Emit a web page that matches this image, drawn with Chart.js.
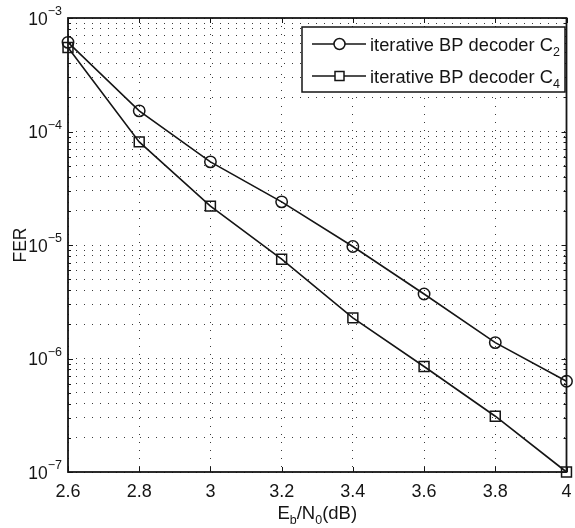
<!DOCTYPE html>
<html>
<head>
<meta charset="utf-8">
<script src="https://cdn.jsdelivr.net/npm/chart.js@4/dist/chart.umd.min.js"></script>
<style>
html,body{margin:0;padding:0;background:#fff;}
canvas{display:block;}
</style>
</head>
<body>
<canvas id="c" width="575" height="528"></canvas>
<script>
// ---- data ----
const ebn0 = [2.6, 2.8, 3.0, 3.2, 3.4, 3.6, 3.8, 4.0];
const ferC2 = [6.1e-4, 1.52e-4, 5.4e-5, 2.4e-5, 9.7e-6, 3.7e-6, 1.38e-6, 6.3e-7];
const ferC4 = [5.5e-4, 8.1e-5, 2.2e-5, 7.5e-6, 2.28e-6, 8.5e-7, 3.1e-7, 1.0e-7];
const xTickValues = [2.6, 2.8, 3.0, 3.2, 3.4, 3.6, 3.8, 4.0];
const xTickLabels = ['2.6', '2.8', '3', '3.2', '3.4', '3.6', '3.8', '4'];
const yTickExponents = [-7, -6, -5, -4, -3];
const seriesBase = ['iterative BP decoder C', 'iterative BP decoder C'];
const seriesSub = ['2', '4'];
const seriesMarkers = ['circle', 'rect'];
const yAxisTitle = 'FER';

const FONT = "'Liberation Sans', Arial, Helvetica, sans-serif";
const INK = '#151515';

function pts(xs, ys) { return xs.map((x, i) => ({x: x, y: ys[i]})); }

function richWidth(ctx, parts) {
  let w = 0;
  for (const p of parts) { ctx.font = p.size + 'px ' + FONT; w += ctx.measureText(p.t).width; }
  return w;
}
function drawRich(ctx, parts, x, y, align) {
  const w = richWidth(ctx, parts);
  let cx = align === 'center' ? x - w / 2 : (align === 'right' ? x - w : x);
  ctx.textAlign = 'left';
  ctx.textBaseline = 'alphabetic';
  for (const p of parts) {
    ctx.font = p.size + 'px ' + FONT;
    ctx.fillText(p.t, cx, y + (p.dy || 0));
    cx += ctx.measureText(p.t).width;
  }
}

const decorations = {
  id: 'decorations',
  afterDraw(chart) {
    const ctx = chart.ctx;
    const {left, right, top, bottom} = chart.chartArea;
    const xs = chart.scales.x, ys = chart.scales.y;
    ctx.save();
    ctx.fillStyle = INK;
    ctx.strokeStyle = INK;

    // inward tick marks
    ctx.lineWidth = 1;
    ctx.beginPath();
    for (const v of xTickValues) {
      const px = Math.round(xs.getPixelForValue(v)) + 0.5;
      ctx.moveTo(px, bottom); ctx.lineTo(px, bottom - 5);
      ctx.moveTo(px, top); ctx.lineTo(px, top + 5);
    }
    for (let e = -7; e <= -3; e++) {
      for (let m = 1; m <= 9; m++) {
        if (e === -3 && m > 1) break;
        const py = Math.round(ys.getPixelForValue(m * Math.pow(10, e))) + 0.5;
        const len = m === 1 ? 5 : 3;
        ctx.moveTo(left, py); ctx.lineTo(left + len, py);
        ctx.moveTo(right, py); ctx.lineTo(right - len, py);
      }
    }
    ctx.stroke();

    // axes box
    ctx.lineWidth = 1.8;
    ctx.strokeRect(left, top, right - left, bottom - top);

    // x tick labels
    ctx.font = '18px ' + FONT;
    ctx.textAlign = 'center';
    ctx.textBaseline = 'alphabetic';
    xTickValues.forEach((v, i) => {
      ctx.fillText(xTickLabels[i], xs.getPixelForValue(v), 497);
    });

    // y tick labels 10^e
    for (const e of yTickExponents) {
      const py = ys.getPixelForValue(Math.pow(10, e));
      drawRich(ctx, [
        {t: '10', size: 17.5, dy: 6.5},
        {t: '\u2212' + Math.abs(e), size: 12.5, dy: -3}
      ], 62, py, 'right');
    }

    // axis titles
    drawRich(ctx, [
      {t: 'E', size: 18.5},
      {t: 'b', size: 12.5, dy: 5},
      {t: '/N', size: 18.5},
      {t: '0', size: 12.5, dy: 5},
      {t: '(dB)', size: 18.5}
    ], (left + right) / 2, 519, 'center');

    ctx.save();
    ctx.translate(26, (top + bottom) / 2);
    ctx.rotate(-Math.PI / 2);
    ctx.font = '17.5px ' + FONT;
    ctx.textAlign = 'center';
    ctx.textBaseline = 'alphabetic';
    ctx.fillText(yAxisTitle, 0, 0);
    ctx.restore();

    // legend
    const lx = 302, ly = 27, lw = 263, lh = 65;
    ctx.fillStyle = '#fff';
    ctx.fillRect(lx, ly, lw, lh);
    ctx.lineWidth = 1.5;
    ctx.strokeStyle = INK;
    ctx.strokeRect(lx, ly, lw, lh);
    const rows = [44, 76];
    chart.data.datasets.forEach((ds, i) => {
      const ry = rows[i];
      ctx.strokeStyle = INK;
      ctx.lineWidth = 1.5;
      ctx.beginPath();
      ctx.moveTo(312, ry); ctx.lineTo(366, ry);
      ctx.stroke();
      if (seriesMarkers[i] === 'circle') {
        ctx.beginPath(); ctx.arc(339.5, ry, 5.5, 0, Math.PI * 2); ctx.fillStyle = '#fff'; ctx.fill(); ctx.stroke();
      } else {
        ctx.fillStyle = '#fff';
        ctx.fillRect(335, ry - 4.5, 9, 9);
        ctx.strokeRect(335, ry - 4.5, 9, 9);
      }
      ctx.fillStyle = INK;
      drawRich(ctx, [
        {t: seriesBase[i], size: 18.3},
        {t: seriesSub[i], size: 12.5, dy: 5}
      ], 370, ry + 6.5, 'left');
    });
    ctx.restore();
  }
};

const dsCommon = {
  borderColor: INK,
  borderWidth: 1.6,
  pointBorderColor: INK,
  pointBackgroundColor: 'rgba(0,0,0,0)',
  pointBorderWidth: 1.5,
  tension: 0,
  clip: false,
  fill: false
};

new Chart(document.getElementById('c'), {
  type: 'line',
  data: {
    datasets: [
      Object.assign({label: seriesBase[0] + seriesSub[0], data: pts(ebn0, ferC2), pointStyle: 'circle', pointRadius: 5.7}, dsCommon),
      Object.assign({label: seriesBase[1] + seriesSub[1], data: pts(ebn0, ferC4), pointStyle: 'rect', pointRadius: 7}, dsCommon)
    ]
  },
  options: {
    responsive: false,
    animation: false,
    devicePixelRatio: 1,
    layout: {padding: {left: 0, top: 18, right: 3, bottom: 0}},
    plugins: {legend: {display: false}, tooltip: {enabled: false}},
    elements: {point: {hoverRadius: 5.7}},
    scales: {
      x: {
        type: 'linear', min: 2.6, max: 4,
        afterBuildTicks: s => { s.ticks = xTickValues.map(v => ({value: v})); },
        afterFit: s => { s.height = 56; },
        ticks: {display: false},
        grid: {color: '#3a3a3a', lineWidth: 1, drawTicks: false},
        border: {display: false, dash: [1, 7]}
      },
      y: {
        type: 'logarithmic', min: 1e-7, max: 1e-3,
        afterBuildTicks: s => {
          const t = [];
          for (let e = -7; e <= -3; e++) for (let m = 1; m <= 9; m++) {
            if (e === -3 && m > 1) break;
            t.push({value: m * Math.pow(10, e)});
          }
          s.ticks = t;
        },
        afterFit: s => { s.width = 68; },
        ticks: {display: false},
        grid: {color: '#3a3a3a', lineWidth: 1, drawTicks: false},
        border: {display: false, dash: [1, 7]}
      }
    }
  },
  plugins: [decorations]
});
</script>
</body>
</html>
